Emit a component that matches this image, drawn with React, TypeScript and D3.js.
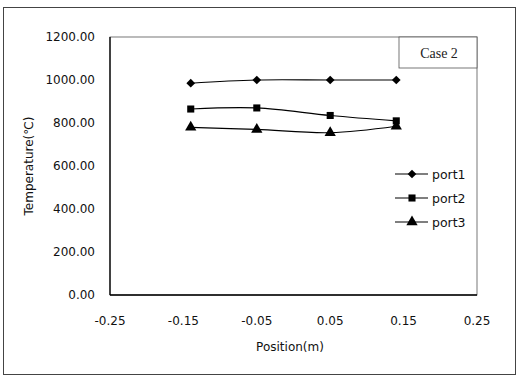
import { useEffect } from "react";
import * as d3 from "d3";

const positions = [-0.14, -0.05, 0.05, 0.14];
const port1 = [985, 1000, 1000, 1000];
const port2 = [865, 870, 835, 810];
const port3 = [780, 770, 755, 785];
const seriesNames = ["port1", "port2", "port3"];
const xTicks = [-0.25, -0.15, -0.05, 0.05, 0.15, 0.25];
const yTicks = [0, 200, 400, 600, 800, 1000, 1200];

const W = 519;
const H = 378;
const font = "'DejaVu Sans', 'Liberation Sans', sans-serif";

const marker = (kind: string) => {
  if (kind === "port1") return d3.symbol(d3.symbolSquare, 38)() as string;
  if (kind === "port2") return d3.symbol(d3.symbolSquare, 50)() as string;
  return d3.symbol(d3.symbolTriangle, 55)() as string;
};

export default function App() {
  useEffect(() => {
    document.body.style.margin = "0";
  }, []);

  const x = d3.scaleLinear().domain([-0.25, 0.25]).range([110, 477]);
  const y = d3.scaleLinear().domain([0, 1200]).range([295, 37]);

  const series = [port1, port2, port3];
  const line = d3
    .line<number>()
    .x((_, i) => x(positions[i]))
    .y((d) => y(d))
    .curve(d3.curveCatmullRom);

  return (
    <svg width={W} height={H} style={{ display: "block", background: "#fff" }}>
      {/* outer chart border */}
      <rect x={3.5} y={7.5} width={512} height={367} fill="none" stroke="#444" strokeWidth={1} />

      {/* plot area */}
      <rect x={x(-0.25)} y={y(1200)} width={x(0.25) - x(-0.25)} height={y(0) - y(1200)} fill="none" stroke="#555" strokeWidth={0.8} />
      <line x1={x(-0.25)} x2={x(-0.25)} y1={y(1200)} y2={y(0)} stroke="#000" strokeWidth={1.3} />
      <line x1={x(-0.25)} x2={x(0.25)} y1={y(0)} y2={y(0)} stroke="#000" strokeWidth={1.3} />

      {yTicks.map((t) => (
        <text key={t} x={95} y={y(t) + 4} textAnchor="end" fontFamily={font} fontSize={12} fill="#111">
          {t.toFixed(2)}
        </text>
      ))}
      {xTicks.map((t) => (
        <text key={t} x={x(t)} y={325} textAnchor="middle" fontFamily={font} fontSize={12} fill="#111">
          {t.toFixed(2)}
        </text>
      ))}

      <text x={290} y={351} textAnchor="middle" fontFamily={font} fontSize={12} fill="#111">
        Position(m)
      </text>
      <text transform="translate(33,166) rotate(-90)" textAnchor="middle" fontFamily={font} fontSize={12} fill="#111">
        Temperature(℃)
      </text>

      {series.map((s, k) => (
        <g key={seriesNames[k]}>
          <path d={line(s) as string} fill="none" stroke="#000" strokeWidth={1.2} />
          {s.map((v, i) => (
            <path
              key={i}
              d={marker(seriesNames[k])}
              transform={`translate(${x(positions[i])},${y(v)})${k === 0 ? " rotate(45)" : ""}`}
              fill="#000"
            />
          ))}
        </g>
      ))}

      {/* legend */}
      {seriesNames.map((name, k) => {
        const ly = 174 + k * 24;
        return (
          <g key={name}>
            <line x1={395} x2={428} y1={ly} y2={ly} stroke="#000" strokeWidth={1.2} />
            <path d={marker(name)} transform={`translate(412,${ly})${k === 0 ? " rotate(45)" : ""}`} fill="#000" />
            <text x={432} y={ly + 4.5} fontFamily={font} fontSize={12.5} fill="#111">
              {name}
            </text>
          </g>
        );
      })}

      {/* case label */}
      <rect x={399} y={y(1200)} width={x(0.25) - 399} height={31} fill="#fff" stroke="#555" strokeWidth={0.8} />
      <text x={439} y={58} textAnchor="middle" fontFamily="'Liberation Serif', 'DejaVu Serif', serif" fontSize={14} fill="#222">
        Case 2
      </text>
    </svg>
  );
}
